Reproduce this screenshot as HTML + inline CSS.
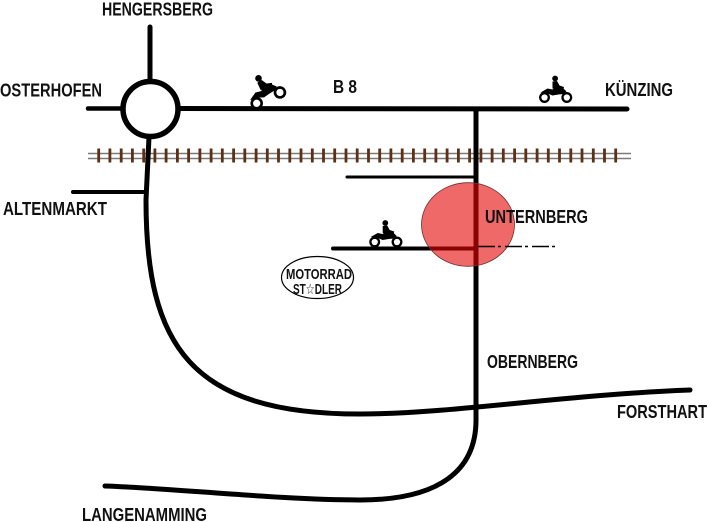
<!DOCTYPE html>
<html><head><meta charset="utf-8"><style>
html,body{margin:0;padding:0;background:#fff;}
svg{display:block;}
text{font-family:"Liberation Sans","DejaVu Sans",sans-serif;font-weight:bold;fill:#111;}
</style></head><body>
<svg width="709" height="522" viewBox="0 0 709 522" xmlns="http://www.w3.org/2000/svg">
<defs>
<g id="bike">
  <path d="M-4,-5 L3,-9 L8,-8 L12,-11 L18,-10 L22,-6 L19,-3.5 L14,-3 L8,-2 L3,-4 Z" fill="#000"/>
  <circle cx="0" cy="0" r="4.3" fill="#fff" stroke="#000" stroke-width="2.3"/>
  <circle cx="22.3" cy="0" r="4.3" fill="#fff" stroke="#000" stroke-width="2.3"/>
  <circle cx="10.6" cy="-19" r="2.9" fill="#000"/>
  <path d="M8,-16 L12.5,-16.5 L15,-12 L19.5,-10.5 L19,-8.5 L13,-8 L8,-9 Z" fill="#000"/>
</g>
</defs>

<!-- railroad -->
<g>
  <line x1="88" y1="153.5" x2="631" y2="153.5" stroke="#7a7a7a" stroke-width="1.6"/>
  <line x1="88" y1="158.5" x2="631" y2="158.5" stroke="#7a7a7a" stroke-width="1.6"/>
  <g stroke="#5e2f14" stroke-width="2.8" id="ties"></g>
</g>

<!-- roads -->
<g fill="none" stroke="#000" stroke-linecap="round" stroke-linejoin="round">
  <line x1="150" y1="27" x2="150" y2="82" stroke-width="5"/>
  <line x1="88" y1="108.5" x2="121" y2="108.5" stroke-width="4.5"/>
  <line x1="180" y1="108.5" x2="627" y2="109" stroke-width="5"/>
  <circle cx="150.5" cy="109" r="27.5" stroke-width="5.5" fill="#fff"/>
  <path d="M149,137 L146,200 C146,345 190,414 360,414 C450,414 560,395 690,390" stroke-width="5"/>
  <line x1="73" y1="192" x2="146" y2="192" stroke-width="4"/>
  <path d="M476,109 L476,420 C476,470 440,500 360,500 C280,500 170,488 105,486" stroke-width="5"/>
  <line x1="347" y1="177" x2="476" y2="177" stroke-width="3"/>
  <line x1="333" y1="248.5" x2="476" y2="248.5" stroke-width="4"/>
</g>

<!-- red highlight -->
<ellipse cx="468" cy="224.5" rx="46.5" ry="41.8" fill="rgb(230,5,5)" fill-opacity="0.6" stroke="#6a3030" stroke-width="0.8"/>

<line x1="478" y1="246.5" x2="557" y2="246.5" stroke="#000" stroke-width="1.6" stroke-dasharray="17 3 3 4"/>

<!-- bikes -->
<use href="#bike" transform="translate(256.7,103.3) rotate(-25) scale(1.15)"/>
<use href="#bike" transform="translate(544.5,97.5)"/>
<use href="#bike" transform="translate(374.7,242)"/>

<!-- logo -->
<ellipse cx="317.5" cy="277.5" rx="36" ry="21" fill="#fff" stroke="#000" stroke-width="1.2"/>
<text x="286" y="279" font-size="15" textLength="66" lengthAdjust="spacingAndGlyphs">MOTORRAD</text>
<text x="293" y="294" font-size="15" textLength="49" lengthAdjust="spacingAndGlyphs">ST☆DLER</text>

<!-- labels -->
<g font-size="18">
  <text x="102" y="15.5" textLength="111" lengthAdjust="spacingAndGlyphs">HENGERSBERG</text>
  <text x="0" y="96.5" textLength="102" lengthAdjust="spacingAndGlyphs">OSTERHOFEN</text>
  <text x="333" y="93" textLength="24" lengthAdjust="spacingAndGlyphs">B 8</text>
  <text x="605" y="96" textLength="68" lengthAdjust="spacingAndGlyphs">KÜNZING</text>
  <text x="3" y="215" textLength="104" lengthAdjust="spacingAndGlyphs">ALTENMARKT</text>
  <text x="485" y="223" textLength="103" lengthAdjust="spacingAndGlyphs">UNTERNBERG</text>
  <text x="487" y="368" textLength="91" lengthAdjust="spacingAndGlyphs">OBERNBERG</text>
  <text x="617" y="418" textLength="90" lengthAdjust="spacingAndGlyphs">FORSTHART</text>
  <text x="82" y="521" textLength="125" lengthAdjust="spacingAndGlyphs">LANGENAMMING</text>
</g>

<script>
(function(){
  var g=document.getElementById('ties');
  var ns='http://www.w3.org/2000/svg';
  for(var i=0;i<47;i++){
    var x=98.7+i*11.24;
    var l=document.createElementNS(ns,'line');
    l.setAttribute('x1',x.toFixed(1));l.setAttribute('x2',x.toFixed(1));
    l.setAttribute('y1','148.5');l.setAttribute('y2','162.5');
    g.appendChild(l);
  }
})();
</script>
</svg>
</body></html>
